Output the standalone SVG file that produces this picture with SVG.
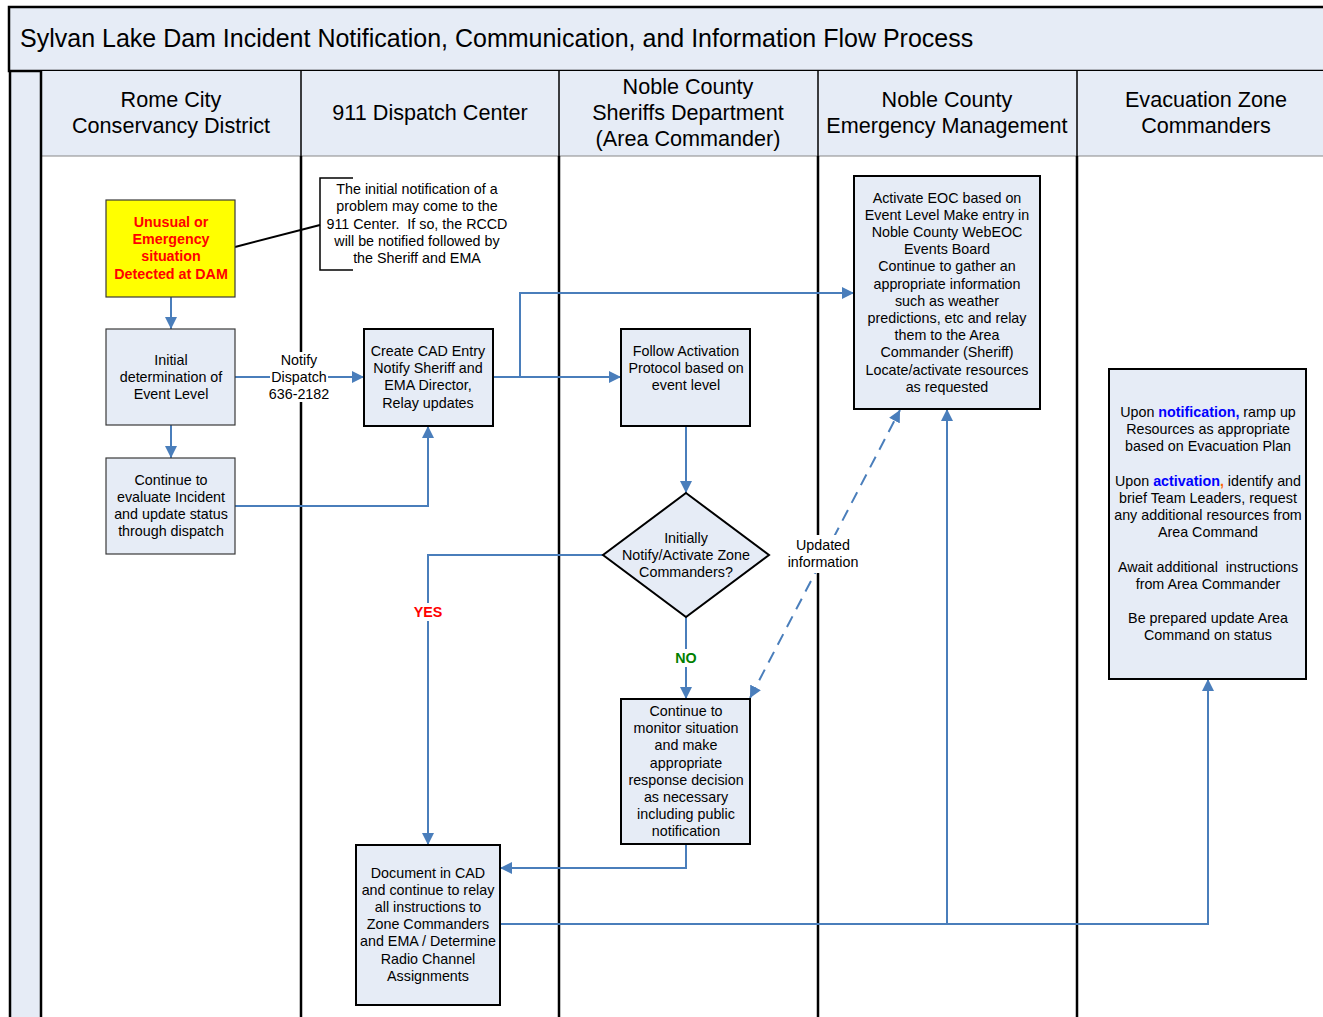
<svg xmlns="http://www.w3.org/2000/svg" width="1323" height="1017" viewBox="0 0 1323 1017">
<style>
text{font-family:"Liberation Sans",Arial,sans-serif;fill:#000}
.t{font-size:14.3px;text-anchor:middle}
.h{font-size:21.6px;text-anchor:middle}
.pre{white-space:pre}
.box{fill:#E6ECF6;stroke:#000;stroke-width:2}
.thin{fill:#E6ECF6;stroke:#3a3a3a;stroke-width:1.2}
.c{fill:none;stroke:#4A7EBB;stroke-width:2}
.lane{stroke:#000;stroke-width:2.5}
</style>
<defs>
<marker id="a" markerUnits="userSpaceOnUse" markerWidth="12" markerHeight="12" refX="12" refY="6" orient="auto">
<path d="M0,0 L12,6 L0,12 z" fill="#4A7EBB"/>
</marker>
<marker id="as" markerUnits="userSpaceOnUse" markerWidth="12" markerHeight="12" refX="0" refY="6" orient="auto">
<path d="M12,0 L0,6 L12,12 z" fill="#4A7EBB"/>
</marker>
</defs>
<rect width="1323" height="1017" fill="#fff"/>
<!-- frame -->
<g id="frame">
<rect x="10" y="71" width="31" height="960" fill="#E6ECF6"/>
<rect x="9" y="7" width="1330" height="64" fill="#E6ECF6" stroke="#000" stroke-width="2.5"/>
<rect x="41" y="71" width="1290" height="85" fill="#E6ECF6"/>
<line x1="41" y1="156" x2="1323" y2="156" stroke="#888" stroke-width="1"/>
<line x1="10" y1="71" x2="10" y2="1017" class="lane"/>
<line x1="41" y1="71" x2="41" y2="1017" class="lane"/>
<line x1="301" y1="71" x2="301" y2="156" stroke="#000" stroke-width="1.5"/>
<line x1="559" y1="71" x2="559" y2="156" stroke="#000" stroke-width="1.5"/>
<line x1="818" y1="71" x2="818" y2="156" stroke="#000" stroke-width="1.5"/>
<line x1="1077" y1="71" x2="1077" y2="156" stroke="#000" stroke-width="1.5"/>
<line x1="301" y1="156" x2="301" y2="1017" class="lane"/>
<line x1="559" y1="156" x2="559" y2="1017" class="lane"/>
<line x1="818" y1="156" x2="818" y2="1017" class="lane"/>
<line x1="1077" y1="156" x2="1077" y2="1017" class="lane"/>
<text x="20" y="47" font-size="25">Sylvan Lake Dam Incident Notification, Communication, and Information Flow Process</text>
<text class="h" x="171" y="107">Rome City</text>
<text class="h" x="171" y="133">Conservancy District</text>
<text class="h" x="430" y="120">911 Dispatch Center</text>
<text class="h" x="688" y="94">Noble County</text>
<text class="h" x="688" y="120">Sheriffs Department</text>
<text class="h" x="688" y="146">(Area Commander)</text>
<text class="h" x="947" y="107">Noble County</text>
<text class="h" x="947" y="133">Emergency Management</text>
<text class="h" x="1206" y="107">Evacuation Zone</text>
<text class="h" x="1206" y="133">Commanders</text>
</g>
<!-- connectors -->
<g id="connectors">
<line x1="235" y1="247" x2="320" y2="225" stroke="#000" stroke-width="2"/>
<path class="c" d="M171,297 V329" marker-end="url(#a)"/>
<path class="c" d="M171,425 V458" marker-end="url(#a)"/>
<path class="c" d="M235,377 H364" marker-end="url(#a)"/>
<path class="c" d="M235,506 H428 V426" marker-end="url(#a)"/>
<path class="c" d="M493,377 H621" marker-end="url(#a)"/>
<path class="c" d="M520,377 V293 H854" marker-end="url(#a)"/>
<path class="c" d="M686,426 V493" marker-end="url(#a)"/>
<path class="c" d="M603,555 H428 V845" marker-end="url(#a)"/>
<path class="c" d="M686,617 V699" marker-end="url(#a)"/>
<path class="c" d="M686,844 V868 H500" marker-end="url(#a)"/>
<path class="c" d="M500,924 H1208 V679" marker-end="url(#a)"/>
<path class="c" d="M947,924 V409" marker-end="url(#a)"/>
<path class="c" d="M750,698 L900,410" stroke-dasharray="12,8" marker-start="url(#as)" marker-end="url(#a)"/>
<rect x="270" y="352" width="58" height="50" fill="#fff"/>
<text class="t" x="299" y="365">Notify</text>
<text class="t" x="299" y="382">Dispatch</text>
<text class="t" x="299" y="399">636-2182</text>
<rect x="788" y="535" width="70" height="38" fill="#fff"/>
<text class="t" x="823" y="550">Updated</text>
<text class="t" x="823" y="567">information</text>
<rect x="412" y="603" width="32" height="18" fill="#fff"/>
<text class="t" x="428" y="617" font-weight="bold" style="fill:#FF0000">YES</text>
<rect x="672" y="649" width="28" height="18" fill="#fff"/>
<text class="t" x="686" y="663" font-weight="bold" style="fill:#008000">NO</text>
</g>
<!-- nodes -->
<g id="n_detected">
<rect x="106" y="200" width="129" height="97" fill="#FFFF00" stroke="#3a3a3a" stroke-width="1.2"/>
<text class="t" x="171" y="227" font-weight="bold" style="fill:#FF0000">Unusual or</text>
<text class="t" x="171" y="244" font-weight="bold" style="fill:#FF0000">Emergency</text>
<text class="t" x="171" y="261" font-weight="bold" style="fill:#FF0000">situation</text>
<text class="t" x="171" y="279" font-weight="bold" style="fill:#FF0000">Detected at DAM</text>
</g>
<g id="n_note">
<path d="M353,178 H320 V270 H353" fill="none" stroke="#000" stroke-width="1.5"/>
<text class="t" x="417" y="194">The initial notification of a</text>
<text class="t" x="417" y="211">problem may come to the</text>
<text class="t pre" x="417" y="229">911 Center.  If so, the RCCD</text>
<text class="t" x="417" y="246">will be notified followed by</text>
<text class="t" x="417" y="263">the Sheriff and EMA</text>
</g>
<g id="n_initial">
<rect class="thin" x="106" y="329" width="129" height="96"/>
<text class="t" x="171" y="365">Initial</text>
<text class="t" x="171" y="382">determination of</text>
<text class="t" x="171" y="399">Event Level</text>
</g>
<g id="n_continue">
<rect class="thin" x="106" y="458" width="129" height="96"/>
<text class="t" x="171" y="485">Continue to</text>
<text class="t" x="171" y="502">evaluate Incident</text>
<text class="t" x="171" y="519">and update status</text>
<text class="t" x="171" y="536">through dispatch</text>
</g>
<g id="n_cad">
<rect class="box" x="364" y="329" width="129" height="97"/>
<text class="t" x="428" y="356">Create CAD Entry</text>
<text class="t" x="428" y="373">Notify Sheriff and</text>
<text class="t" x="428" y="390">EMA Director,</text>
<text class="t" x="428" y="408">Relay updates</text>
</g>
<g id="n_follow">
<rect class="box" x="621" y="329" width="129" height="97"/>
<text class="t" x="686" y="356">Follow Activation</text>
<text class="t" x="686" y="373">Protocol based on</text>
<text class="t" x="686" y="390">event level</text>
</g>
<g id="n_decision">
<polygon class="box" points="686,493 769,555 686,617 603,555"/>
<text class="t" x="686" y="543">Initially</text>
<text class="t" x="686" y="560">Notify/Activate Zone</text>
<text class="t" x="686" y="577">Commanders?</text>
</g>
<g id="n_monitor">
<rect class="box" x="621" y="699" width="129" height="145"/>
<text class="t" x="686" y="716">Continue to</text>
<text class="t" x="686" y="733">monitor situation</text>
<text class="t" x="686" y="750">and make</text>
<text class="t" x="686" y="768">appropriate</text>
<text class="t" x="686" y="785">response decision</text>
<text class="t" x="686" y="802">as necessary</text>
<text class="t" x="686" y="819">including public</text>
<text class="t" x="686" y="836">notification</text>
</g>
<g id="n_document">
<rect class="box" x="356" y="845" width="144" height="160"/>
<text class="t" x="428" y="878">Document in CAD</text>
<text class="t" x="428" y="895">and continue to relay</text>
<text class="t" x="428" y="912">all instructions to</text>
<text class="t" x="428" y="929">Zone Commanders</text>
<text class="t" x="428" y="946">and EMA / Determine</text>
<text class="t" x="428" y="964">Radio Channel</text>
<text class="t" x="428" y="981">Assignments</text>
</g>
<g id="n_eoc">
<rect class="box" x="854" y="176" width="186" height="233"/>
<text class="t" x="947" y="203">Activate EOC based on</text>
<text class="t" x="947" y="220">Event Level Make entry in</text>
<text class="t" x="947" y="237">Noble County WebEOC</text>
<text class="t" x="947" y="254">Events Board</text>
<text class="t" x="947" y="271">Continue to gather an</text>
<text class="t" x="947" y="289">appropriate information</text>
<text class="t" x="947" y="306">such as weather</text>
<text class="t" x="947" y="323">predictions, etc and relay</text>
<text class="t" x="947" y="340">them to the Area</text>
<text class="t" x="947" y="357">Commander (Sheriff)</text>
<text class="t" x="947" y="375">Locate/activate resources</text>
<text class="t" x="947" y="392">as requested</text>
</g>
<g id="n_evac">
<rect class="box" x="1109" y="369" width="197" height="310"/>
<text class="t" x="1208" y="417">Upon <tspan font-weight="bold" style="fill:#0000FF">notification,</tspan> ramp up</text>
<text class="t" x="1208" y="434">Resources as appropriate</text>
<text class="t" x="1208" y="451">based on Evacuation Plan</text>
<text class="t" x="1208" y="486">Upon <tspan font-weight="bold" style="fill:#0000FF">activation</tspan><tspan font-weight="bold" style="fill:#FF6600">,</tspan> identify and</text>
<text class="t" x="1208" y="503">brief Team Leaders, request</text>
<text class="t" x="1208" y="520">any additional resources from</text>
<text class="t" x="1208" y="537">Area Command</text>
<text class="t pre" x="1208" y="572">Await additional  instructions</text>
<text class="t" x="1208" y="589">from Area Commander</text>
<text class="t" x="1208" y="623">Be prepared update Area</text>
<text class="t" x="1208" y="640">Command on status</text>
</g>
</svg>
